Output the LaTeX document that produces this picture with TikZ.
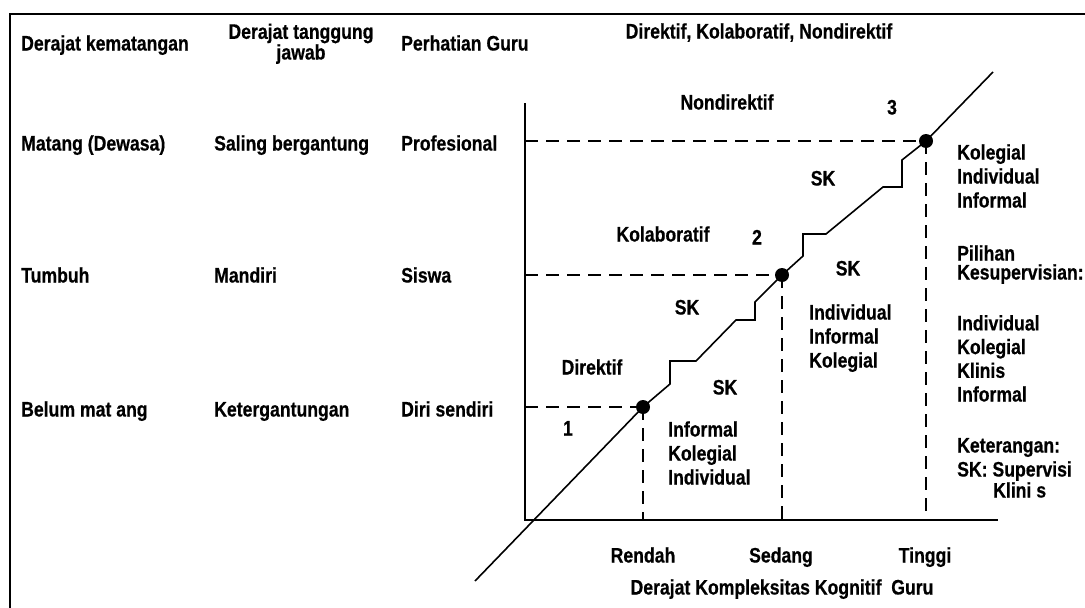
\documentclass[tikz,border=0pt]{standalone}
\usepackage{fontspec}
\setmainfont[FakeStretch=0.84,FakeBold=0.5]{Liberation Sans}
\begin{document}
\begin{tikzpicture}[x=1pt,y=-1pt,
  lbl/.style={font=\fontsize{21}{24}\selectfont\bfseries, inner sep=0pt, text height=15pt, text depth=0pt},
  axisline/.style={line width=2.2pt},
  stair/.style={line width=1.6pt, line join=miter},
  guide/.style={line width=1.6pt, dash pattern=on 13pt off 8pt},
  frame/.style={line width=2.6pt},
  dotnode/.style={circle, fill=black, inner sep=0pt, minimum size=14pt}]
\useasboundingbox (0,0) rectangle (1085,608);
% frame
\coordinate (fTR) at (1085,14);
\coordinate (fTL) at (10,14);
\coordinate (fBL) at (10,608);
\draw[frame] (fTR) -- (fTL) -- (fBL);
% axes
\coordinate (O) at (525,520);
\coordinate (Ytop) at (525,103);
\coordinate (Xend) at (998,520);
\draw[axisline] (Ytop) -- (O) -- (Xend);
% dots
\node[dotnode] (d1) at (643,407) {};
\node[dotnode] (d2) at (782,275) {};
\node[dotnode] (d3) at (926,141) {};
% dashed guides
\coordinate (h1) at (525,407);
\coordinate (h2) at (525,275);
\coordinate (h3) at (525,141);
\coordinate (v1) at (643,520);
\coordinate (v2) at (782,520);
\coordinate (v3) at (926,520);
\draw[guide] (h1) -- (d1.center);
\draw[guide] (h2) -- (d2.center);
\draw[guide] (h3) -- (d3.center);
\draw[guide] (d1.center) -- (v1);
\draw[guide] (d2.center) -- (v2);
\draw[guide] (d3.center) -- (v3);
% staircase line
\coordinate (s0) at (475,581);
\coordinate (s9) at (993,72);
\draw[stair] (s0) -- (d1.center) -- (670,384) -- (670,361) -- (696,361) -- (736,320) -- (755,320) -- (755,302) -- (d2.center)
  -- (803,256) -- (803,234) -- (826,234) -- (883,187) -- (902,187) -- (902,160) -- (d3.center) -- (s9);
% header
\node[lbl, anchor=west] (hA) at (21,43) {Derajat kematangan};
\node[lbl, align=center, font=\fontsize{21}{19}\selectfont\bfseries] (hB) at (301,52) {Derajat tanggung\\jawab};
\node[lbl, anchor=west] (hC) at (401,43) {Perhatian Guru};
\node[lbl] (hD) at (759,31) {Direktif, Kolaboratif, Nondirektif};
% rows
\node[lbl, anchor=west] (r1a) at (21,143) {Matang (Dewasa)};
\node[lbl, anchor=west] (r1b) at (214,143) {Saling bergantung};
\node[lbl, anchor=west] (r1c) at (401,143) {Profesional};
\node[lbl, anchor=west] (r2a) at (21,275) {Tumbuh};
\node[lbl, anchor=west] (r2b) at (214,275) {Mandiri};
\node[lbl, anchor=west] (r2c) at (401,275) {Siswa};
\node[lbl, anchor=west] (r3a) at (21,409) {Belum mat ang};
\node[lbl, anchor=west] (r3b) at (214,409) {Ketergantungan};
\node[lbl, anchor=west] (r3c) at (401,409) {Diri sendiri};
% inner labels
\node[lbl] (n1) at (568,428) {1};
\node[lbl] (n2) at (757,237) {2};
\node[lbl] (n3) at (892,107) {3};
\node[lbl] (dir) at (592,367) {Direktif};
\node[lbl] (kol) at (663,234) {Kolaboratif};
\node[lbl] (non) at (727,102) {Nondirektif};
\node[lbl] (sk1) at (725,387) {SK};
\node[lbl] (sk2) at (687,307) {SK};
\node[lbl] (sk3) at (848,268) {SK};
\node[lbl] (sk4) at (823,178) {SK};
\node[lbl, anchor=west, align=left] (lst1) at (668,477) {Informal\\Kolegial\\Individual};
\node[lbl, anchor=west, align=left] (lst2) at (809,360) {Individual\\Informal\\Kolegial};
\node[lbl, anchor=west, align=left] (lst3) at (957,200) {Kolegial\\Individual\\Informal};
\node[lbl, anchor=west, align=left, font=\fontsize{21}{19}\selectfont\bfseries] (pil) at (957,272) {Pilihan\\Kesupervisian:};
\node[lbl, anchor=west, align=left, font=\fontsize{21}{23.7}\selectfont\bfseries] (lst4) at (957,394) {Individual\\Kolegial\\Klinis\\Informal};
\node[lbl, anchor=west] (ket) at (957,445) {Keterangan:};
\node[lbl, anchor=west] (skk) at (957,469) {SK: Supervisi};
\node[lbl, anchor=west] (kln) at (993,490) {Klini s};
% x-axis labels
\node[lbl] (ren) at (643,555) {Rendah};
\node[lbl] (sed) at (781,555) {Sedang};
\node[lbl] (tin) at (925,555) {Tinggi};
\node[lbl] (xt) at (782,587) {Derajat Kompleksitas Kognitif\ \ Guru};
\end{tikzpicture}
\end{document}
